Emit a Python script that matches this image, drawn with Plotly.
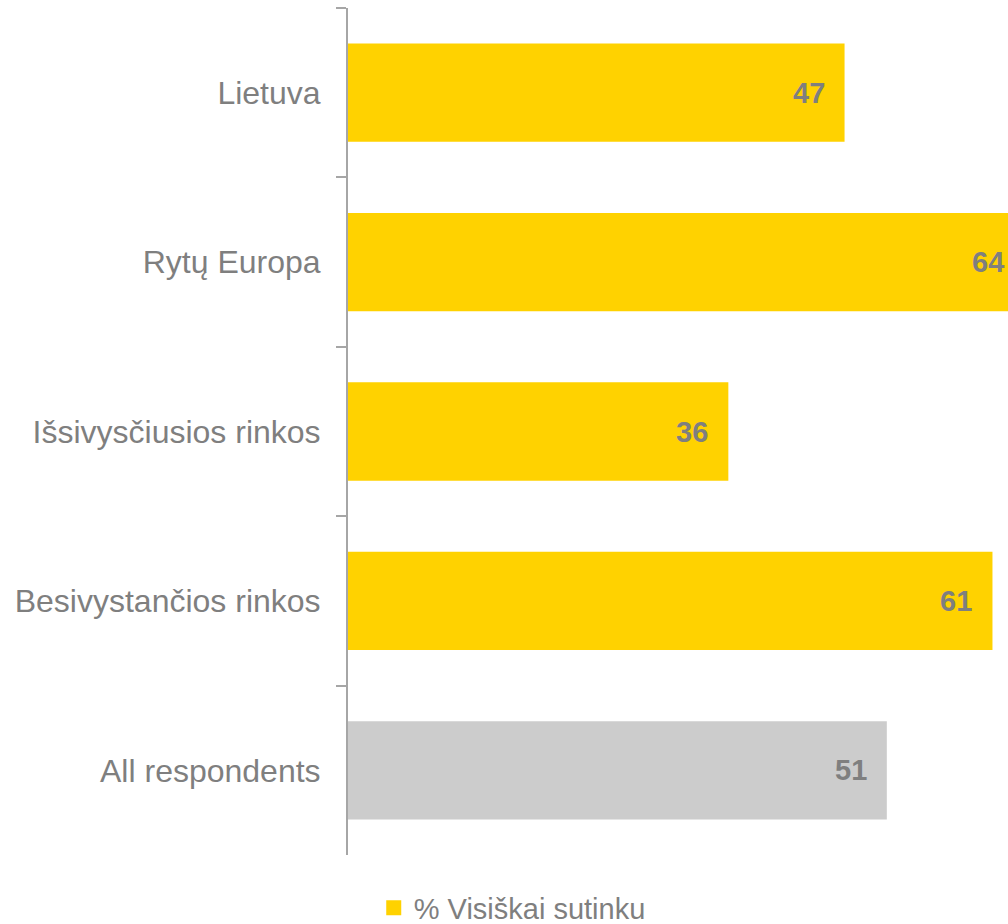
import plotly.graph_objects as go

categories = ["Lietuva", "Rytų Europa", "Išsivysčiusios rinkos", "Besivystančios rinkos"]
values = [47, 64, 36, 61]
total_category = ["All respondents"]
total_value = [51]
series_name = "% Visiškai sutinku"

XMAX = 62.47
YELLOW = "#FFD200"
GREY_BAR = "#CCCCCC"
TEXT = "#7F7F7F"
FONT = "Liberation Sans, Arial, sans-serif"

fig = go.Figure()
fig.add_trace(go.Bar(
    y=categories, x=values, orientation="h", name=series_name,
    marker=dict(color=YELLOW, line=dict(width=0)), showlegend=False,
    hoverinfo="skip",
))
fig.add_trace(go.Bar(
    y=total_category, x=total_value, orientation="h", name="All",
    marker=dict(color=GREY_BAR, line=dict(width=0)), showlegend=False,
    hoverinfo="skip",
))
# legend entry (square symbol like the reference)
fig.add_trace(go.Scatter(
    x=[None], y=[None], mode="markers", name=series_name,
    marker=dict(symbol="square", size=15, color=YELLOW), showlegend=True,
    hoverinfo="skip",
))

all_cats = categories + total_category
all_vals = values + total_value
for c, v in zip(all_cats, all_vals):
    fig.add_annotation(
        x=v / XMAX, xref="paper", y=c, yref="y",
        text=f"<b>{v}</b>", showarrow=False, xanchor="right", yanchor="middle",
        xshift=-18, font=dict(family=FONT, size=29, color=TEXT),
    )

fig.update_layout(
    width=1008, height=940,
    margin=dict(l=348, r=0, t=8, b=85, autoexpand=False),
    paper_bgcolor="white", plot_bgcolor="white",
    barmode="relative", bargap=0.42,
    font=dict(family=FONT, color=TEXT),
    legend=dict(
        orientation="h", x=0.039, xanchor="left", y=-0.0626, yanchor="middle",
        font=dict(family=FONT, size=29, color=TEXT), itemwidth=30,
        bgcolor="rgba(0,0,0,0)",
    ),
)
fig.update_xaxes(range=[0, XMAX], visible=False, showgrid=False, zeroline=False)
fig.update_yaxes(
    autorange="reversed", categoryorder="array", categoryarray=all_cats,
    showline=True, linecolor="#A6A6A6", linewidth=2,
    ticks="outside", tickson="boundaries", ticklen=10, tickcolor="#A6A6A6", tickwidth=2,
    tickfont=dict(family=FONT, size=32, color=TEXT), ticklabelstandoff=19,
    showgrid=False, zeroline=False,
)

fig.write_html(
    "out.html",
    config={"displayModeBar": False},
    post_script="document.body.style.margin='0';document.body.style.overflow='hidden';",
)
